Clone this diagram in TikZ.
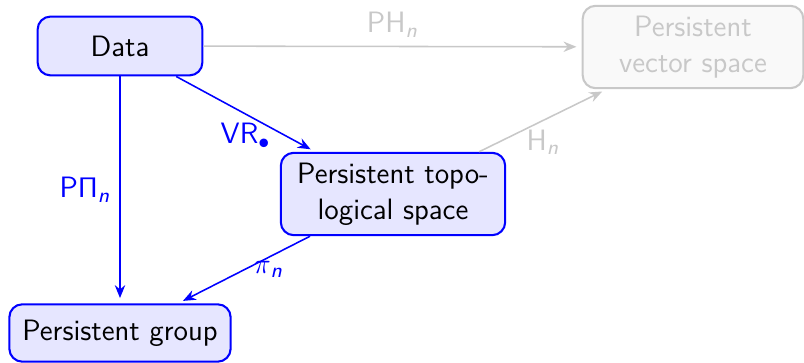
\documentclass[tikz,border=0pt]{standalone}
\usetikzlibrary{arrows.meta}
\definecolor{NodeBlue}{RGB}{0,0,255}
\definecolor{NodeFill}{RGB}{230,230,255}
\definecolor{FadeLine}{RGB}{200,200,200}
\definecolor{FadeFill}{RGB}{249,249,249}

\begin{document}
\begin{tikzpicture}[x=0.0136cm, y=0.0136cm, every node/.style={font=\sffamily\fontsize{11.4}{14}\selectfont},
    box/.style={draw=NodeBlue, thick, rounded corners=5pt, fill=NodeFill, align=center, inner xsep=5pt, minimum height=0.78cm},
    fadebox/.style={draw=FadeLine, thick, rounded corners=5pt, fill=FadeFill, text=FadeLine, align=center, minimum height=1.12cm, minimum width=3.0cm},
    map/.style={-{Stealth[length=5pt,width=4pt]}, semithick, NodeBlue, shorten >=2pt},
    fademap/.style={-{Stealth[length=5pt,width=4pt]}, semithick, FadeLine, shorten >=2pt}]
  \useasboundingbox (0,0) rectangle (804,363);
  \node[box, minimum width=2.24cm, minimum height=0.80cm] (data) at (120,317) {Data};
  \node[fadebox] (vec) at (693,316) {Persistent\\vector space};
  \node[box, minimum height=1.12cm, minimum width=3.05cm] (top) at (393,169) {Persistent topo-\\logical space};
  \node[box] (grp) at (120,30) {Persistent group};

  \draw[fademap] (data) -- node[above, text=FadeLine] {PH\textsubscript{\textit{n}}} (vec);
  \draw[map] (data) -- node[below] {VR\textsubscript{$\bullet$}} (top);
  \draw[fademap] (top) -- node[below, text=FadeLine] {H\textsubscript{\textit{n}}} (vec);
  \draw[map] (data) -- node[left] {P$\mathsf{\Pi}$\textsubscript{\textit{n}}} (grp);
  \draw[map] (top) -- node[right] {$\pi$\textsubscript{\textit{n}}} (grp);
\end{tikzpicture}
\end{document}
